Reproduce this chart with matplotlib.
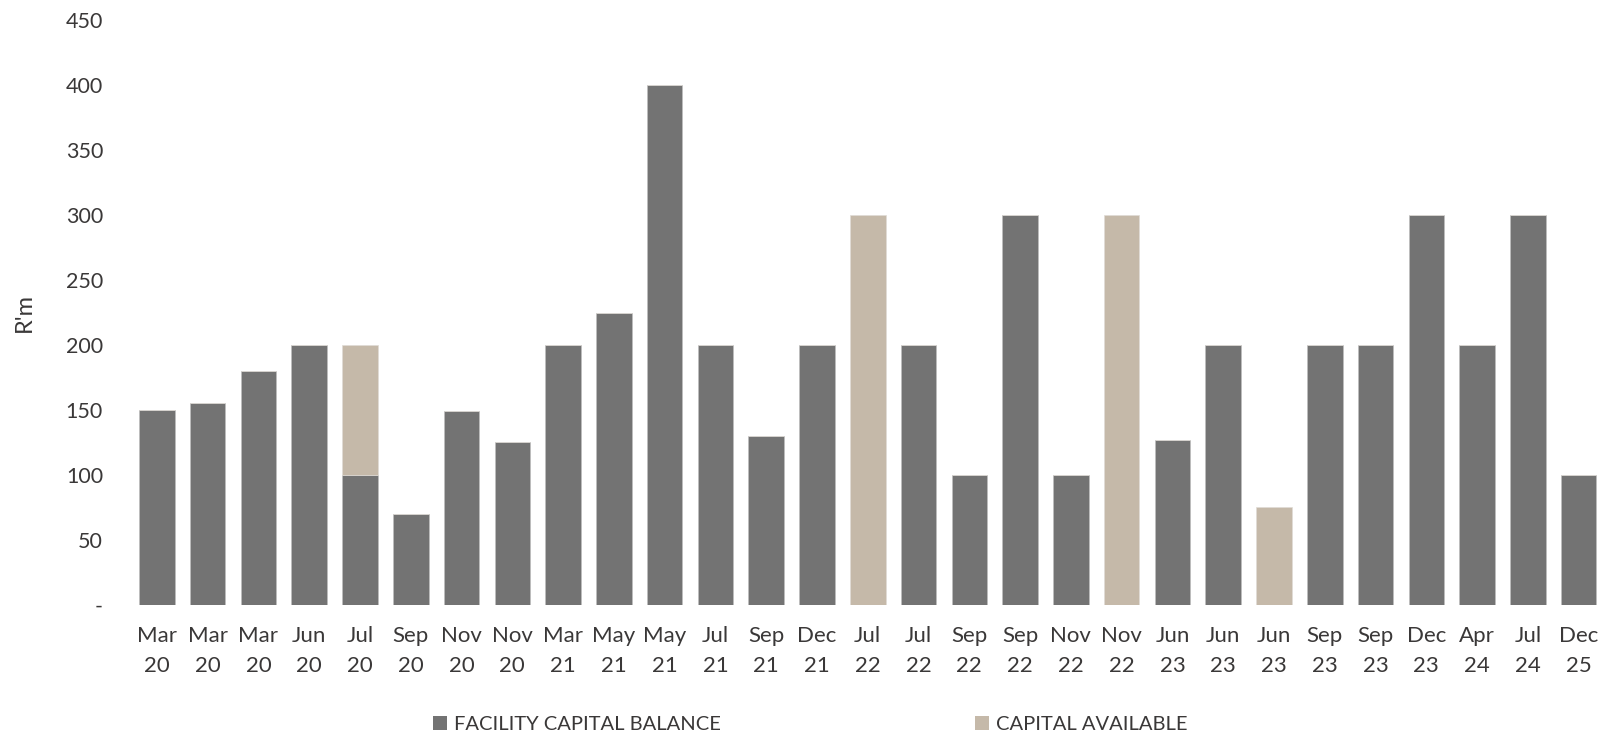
import numpy as np
import matplotlib.pyplot as plt
from matplotlib.patches import Patch

# Facility capital drawdowns, R'm
labels = ["Mar\n20", "Mar\n20", "Mar\n20", "Jun\n20", "Jul\n20", "Sep\n20", "Nov\n20", "Nov\n20",
          "Mar\n21", "May\n21", "May\n21", "Jul\n21", "Sep\n21", "Dec\n21", "Jul\n22", "Jul\n22",
          "Sep\n22", "Sep\n22", "Nov\n22", "Nov\n22", "Jun\n23", "Jun\n23", "Jun\n23", "Sep\n23",
          "Sep\n23", "Dec\n23", "Apr\n24", "Jul\n24", "Dec\n25"]
balance = [150, 155, 180, 200, 100, 70, 149, 125,
           200, 225, 400, 200, 130, 200, 0, 200,
           100, 300, 100, 0, 127, 200, 0, 200,
           200, 300, 200, 300, 100]
available = [0, 0, 0, 0, 100, 0, 0, 0,
             0, 0, 0, 0, 0, 0, 300, 0,
             0, 0, 0, 300, 0, 0, 75, 0,
             0, 0, 0, 0, 0]

dark = "#737373"
beige = "#c5b9a9"
text_col = "#3a3838"

plt.rcParams['font.family'] = ['Lato', 'DejaVu Sans']

fig = plt.figure(figsize=(16.01, 7.41), dpi=100)
ax = fig.add_axes([131.5 / 1601, 1 - 604.5 / 741, 1 - 131.5 / 1601, 584 / 741])

x = np.arange(len(labels))
ax.bar(x, balance, width=0.7, color=dark, edgecolor="#bfbfbf", linewidth=0.5)
ax.bar(x, available, width=0.7, bottom=balance, color=beige, edgecolor="#e0dcd6", linewidth=0.5)

ax.set_xlim(-0.5, 28.44)
ax.set_ylim(0, 450)
ax.set_yticks(range(0, 451, 50))
ax.set_yticklabels(["-"] + [str(v) for v in range(50, 451, 50)])
ax.set_xticks(x)
ax.set_xticklabels(labels, linespacing=1.65)
ax.tick_params(length=0, colors=text_col)
ax.tick_params(axis="y", pad=20.5, labelsize=15.5)
ax.tick_params(axis="x", pad=15.5, labelsize=16)
for s in ax.spines.values():
    s.set_visible(False)
ax.set_ylabel("R'm", color=text_col, fontsize=17)
ax.yaxis.set_label_coords(-0.066, 0.5)

handles = [Patch(facecolor=dark, label="FACILITY CAPITAL BALANCE"),
           Patch(facecolor=beige, label="CAPITAL AVAILABLE")]
fig.legend(handles=handles, loc="lower left", bbox_to_anchor=(423 / 1601, -2 / 741),
           ncol=2, frameon=False, handlelength=0.7, handleheight=0.7, handletextpad=0.35,
           columnspacing=12.6, labelcolor=text_col, fontsize=14.5, borderpad=0)

fig.savefig("out.png", dpi=100)
